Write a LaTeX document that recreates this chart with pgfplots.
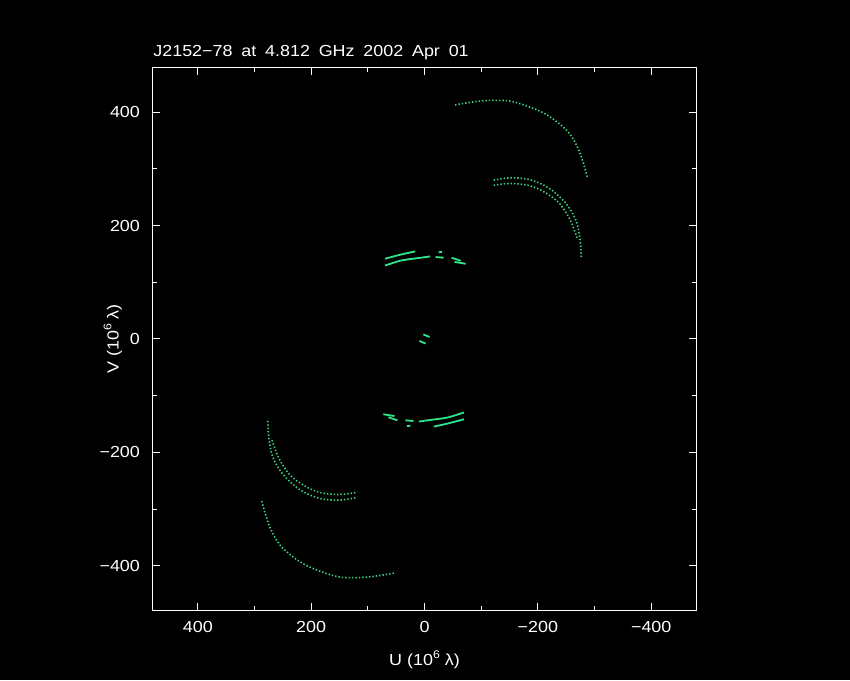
\documentclass[border=0pt]{standalone}
\usepackage{fontspec}
\setmainfont{Liberation Sans}[FakeStretch=1.12]
\usepackage{pgfplots}
\pgfplotsset{compat=1.18}
\definecolor{uvgreen}{RGB}{60,215,130}
\definecolor{uvbright}{RGB}{45,230,140}
\newcommand{\lbl}{\fontsize{8}{9}\selectfont}
\begin{document}
\begin{tikzpicture}
\fill[black] (0pt,0pt) rectangle (425pt,340pt);
\begin{axis}[
  at={(76.5pt,35pt)}, anchor=south west,
  scale only axis, width=271.5pt, height=271pt,
  x dir=reverse,
  xmin=-479, xmax=479, ymin=-478, ymax=478,
  axis line style={white, line width=0.5pt},
  tick pos=both, tick align=inside,
  xtick={-400,-200,0,200,400},
  xticklabels={−400,−200,0,200,400},
  ytick={-400,-200,0,200,400},
  yticklabels={−400,−200,0,200,400},
  minor xtick={-300,-100,100,300},
  minor ytick={-300,-100,100,300},
  major tick length=3.5pt, minor tick length=2pt,
  every tick/.style={white, line width=0.5pt},
  every minor tick/.style={white, line width=0.5pt},
  ticklabel style={font=\lbl, text=white},
  xticklabel style={yshift=-2pt},
  yticklabel style={xshift=-3pt},
  every axis title/.style={at={(axis description cs:0,1)}, anchor=base west, inner sep=0pt, yshift=5.5pt, text=white, font=\lbl},
  title={J2152−78\hspace{0.55em}at\hspace{0.55em}4.812\hspace{0.55em}GHz\hspace{0.55em}2002\hspace{0.55em}Apr\hspace{0.55em}01},
  every axis x label/.style={at={(axis description cs:0.5,-0.0923)}, anchor=center, text=white, font=\lbl},
  every axis y label/.style={at={(axis description cs:-0.074,0.5)}, anchor=center, rotate=90, text=white, font=\lbl},
  xlabel={U (10\raisebox{0.85ex}{\fontsize{5.5}{6}\selectfont 6} λ)},
  ylabel={V (10\raisebox{0.85ex}{\fontsize{5.5}{6}\selectfont 6} λ)},
  dotarc/.style={uvgreen, line width=0.8pt, dash pattern=on 0.7pt off 1.0pt, smooth},
  inarc/.style={uvbright, line width=0.9pt},
]
% outer arcs (dotted)
\addplot[dotarc] coordinates {
(-54,413) (-78,417) (-101,420) (-125,421) (-149,420) (-172,414) (-196,405) (-214,396.5) (-231,385) (-249,370) (-261,355) (-273,331.5) (-281,308) (-287,286)};
\addplot[dotarc] coordinates {
(54,-413) (78,-417) (101,-420) (125,-421) (149,-420) (172,-414) (196,-405) (214,-396.5) (231,-385) (249,-370) (261,-355) (273,-331.5) (281,-308) (287,-286)};
% middle arcs, outer strand
\addplot[dotarc] coordinates {
(-122,280) (-138,283) (-154.5,284.4) (-170,283.5) (-184,281.4) (-199,276.5) (-213.6,269.6) (-226,261.5) (-237.2,251.9) (-247,242) (-254.9,231.9) (-261.5,221) (-266.7,210.6) (-270.5,198.5) (-272.6,187.1) (-274.5,175) (-275.6,163.4) (-276.6,142.8)};
\addplot[dotarc] coordinates {
(122,-280) (138,-283) (154.5,-284.4) (170,-283.5) (184,-281.4) (199,-276.5) (213.6,-269.6) (226,-261.5) (237.2,-251.9) (247,-242) (254.9,-231.9) (261.5,-221) (266.7,-210.6) (270.5,-198.5) (272.6,-187.1) (274.5,-175) (275.6,-163.4) (276.6,-142.8)};
% middle arcs, inner strand
\addplot[dotarc] coordinates {
(-122,271) (-138,273.5) (-154,274.3) (-170,273) (-184,270.8) (-199,265.5) (-213.6,257.9) (-226,249.5) (-237.2,240.2) (-245,230) (-251.9,219.5) (-257,210) (-260.7,201.8) (-264,193) (-267.3,184.1) (-270,175)};
\addplot[dotarc] coordinates {
(122,-271) (138,-273.5) (154,-274.3) (170,-273) (184,-270.8) (199,-265.5) (213.6,-257.9) (226,-249.5) (237.2,-240.2) (245,-230) (251.9,-219.5) (257,-210) (260.7,-201.8) (264,-193) (267.3,-184.1) (270,-175)};
% inner arcs (top)
\addplot[inarc, smooth] coordinates {(69.6,141.6) (56,145.2) (43,148.6) (30,151.6) (16.5,154.5)};
\addplot[inarc, smooth] coordinates {(69.6,129.7) (56,134) (43,138) (30,140.3) (16.5,142) (3,143.8) (-10,145.7)};
\addplot[inarc] coordinates {(-19.5,144.6) (-33.6,143.4)};
\addplot[inarc] coordinates {(-25,153) (-31,153.6)};
\addplot[inarc] coordinates {(-47.8,143.4) (-63.7,138)};
\addplot[inarc] coordinates {(-53,136) (-72.6,132.7)};
% inner arcs (bottom)
\addplot[inarc, smooth] coordinates {(-69.6,-141.6) (-56,-145.2) (-43,-148.6) (-30,-151.6) (-16.5,-154.5)};
\addplot[inarc, smooth] coordinates {(-69.6,-129.7) (-56,-134) (-43,-138) (-30,-140.3) (-16.5,-142) (-3,-143.8) (10,-145.7)};
\addplot[inarc] coordinates {(19.5,-144.6) (33.6,-143.4)};
\addplot[inarc] coordinates {(25,-153) (31,-153.6)};
\addplot[inarc] coordinates {(47.8,-143.4) (63.7,-138)};
\addplot[inarc] coordinates {(53,-136) (72.6,-132.7)};
% central
\addplot[inarc] coordinates {(2,8) (-9,3.5)};
\addplot[inarc] coordinates {(-2,-8) (9,-3.5)};
\end{axis}
\end{tikzpicture}
\end{document}
